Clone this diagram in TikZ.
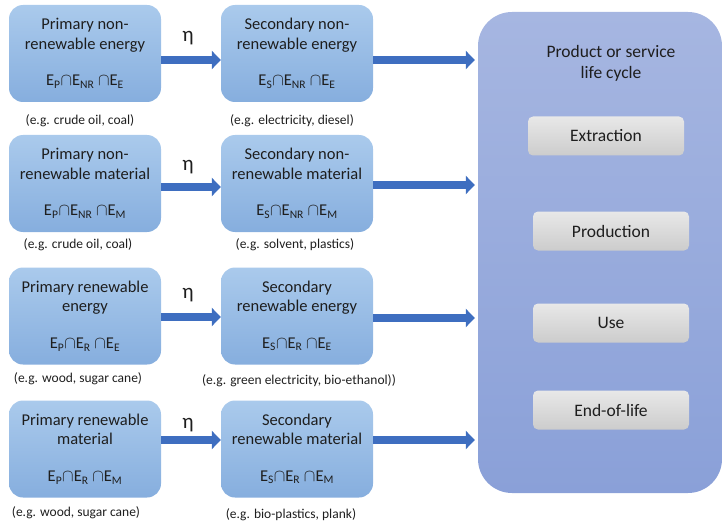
\documentclass[tikz,border=0pt]{standalone}
\usepackage{fontspec}
\setmainfont{Carlito}
\usetikzlibrary{positioning,arrows.meta}
\definecolor{boxtop}{RGB}{170,202,236}
\definecolor{boxbot}{RGB}{134,174,222}
\definecolor{lctop}{RGB}{166,182,225}
\definecolor{lcbot}{RGB}{138,160,216}
\definecolor{graytop}{RGB}{232,232,232}
\definecolor{graybot}{RGB}{204,204,204}
\definecolor{flowblue}{RGB}{62,110,192}
\definecolor{txtgray}{RGB}{30,30,30}
\newcommand{\Isect}{\ensuremath{\cap}}
\tikzset{
  srcbox/.style={
    rounded corners=14pt, top color=boxtop, bottom color=boxbot,
    minimum width=152pt, minimum height=97pt, inner sep=0pt,
    align=center, text=txtgray, font=\fontsize{16.5}{19.5}\selectfont
  },
  lcbox/.style={
    rounded corners=34pt, top color=lctop, bottom color=lcbot,
    minimum width=244pt, minimum height=481pt, inner sep=0pt
  },
  stage/.style={
    rounded corners=5pt, top color=graytop, bottom color=graybot,
    minimum width=156pt, minimum height=39pt, inner sep=0pt,
    text=txtgray, font=\fontsize{17.5}{20}\selectfont
  },
  example/.style={text=txtgray, font=\fontsize{13.5}{16}\selectfont, inner sep=0pt},
  eta/.style={text=txtgray, font=\fontsize{21}{24}\selectfont, inner sep=0pt},
  flow/.style={-{Triangle[length=9pt,width=18pt]}, line width=8pt, draw=flowblue}
}

\begin{document}
\begin{tikzpicture}[x=1pt,y=-1pt]
  \useasboundingbox (0,0) rectangle (723,524);

  % life cycle
  \node[lcbox] (lc) at (600,252.5) {};
  \node[text=txtgray, align=center, font=\fontsize{17.5}{21}\selectfont] (lctitle) at (611,63) {Product or service\\life cycle};
  \node[stage] (extr) at (606,136) {Extraction};
  \node[stage] (prod) at (611,231) {Production};
  \node[stage] (use) at (611,323) {Use};
  \node[stage] (eol) at (611,410) {End-of-life};

  % primary resources
  \node[srcbox] (p1) at (85,53.5) {Primary non-\\renewable energy\\[17pt]E\textsubscript{P}\Isect E\textsubscript{NR} \Isect E\textsubscript{E}};
  \node[srcbox] (p2) at (85,183.5) {Primary non-\\renewable material\\[17pt]E\textsubscript{P}\Isect E\textsubscript{NR} \Isect E\textsubscript{M}};
  \node[srcbox] (p3) at (85,316) {Primary renewable\\energy\\[17pt]E\textsubscript{P}\Isect E\textsubscript{R} \Isect E\textsubscript{E}};
  \node[srcbox] (p4) at (85,449) {Primary renewable\\material\\[17pt]E\textsubscript{P}\Isect E\textsubscript{R} \Isect E\textsubscript{M}};

  % secondary resources
  \node[srcbox] (s1) at (297,53.5) {Secondary non-\\renewable energy\\[17pt]E\textsubscript{S}\Isect E\textsubscript{NR} \Isect E\textsubscript{E}};
  \node[srcbox] (s2) at (297,183.5) {Secondary non-\\renewable material\\[17pt]E\textsubscript{S}\Isect E\textsubscript{NR} \Isect E\textsubscript{M}};
  \node[srcbox] (s3) at (297,316) {Secondary\\renewable energy\\[17pt]E\textsubscript{S}\Isect E\textsubscript{R} \Isect E\textsubscript{E}};
  \node[srcbox] (s4) at (297,449) {Secondary\\renewable material\\[17pt]E\textsubscript{S}\Isect E\textsubscript{R} \Isect E\textsubscript{M}};

  % examples
  \node[example] (ex1) at (80,121) {(e.g. crude oil, coal)};
  \node[example] (ex2) at (78,245) {(e.g. crude oil, coal)};
  \node[example] (ex3) at (78,379) {(e.g. wood, sugar cane)};
  \node[example] (ex4) at (76,513) {(e.g. wood, sugar cane)};
  \node[example] (ey1) at (292,121) {(e.g. electricity, diesel)};
  \node[example] (ey2) at (295,245) {(e.g. solvent, plastics)};
  \node[example] (ey3) at (299,381) {(e.g. green electricity, bio-ethanol))};
  \node[example] (ey4) at (291,515) {(e.g. bio-plastics, plank)};

  % conversion arrows
  \node[eta] (eta1) at (188,38) {η};
  \node[eta] (eta2) at (188,167) {η};
  \node[eta] (eta3) at (188,295) {η};
  \node[eta] (eta4) at (188,425) {η};
  \draw[flow] ([yshift=-6.5pt]p1.east) -- ([yshift=-6.5pt]s1.west);
  \draw[flow] ([yshift=-3.5pt]p2.east) -- ([yshift=-3.5pt]s2.west);
  \draw[flow] ([yshift=-1pt]p3.east) -- ([yshift=-1pt]s3.west);
  \draw[flow] ([yshift=9pt]p4.east) -- ([yshift=9pt]s4.west);

  % into life cycle
  \draw[flow] ([yshift=-6.5pt]s1.east) -- ([yshift=-6.5pt,xshift=-3pt]s1.east -| lc.west);
  \draw[flow] ([yshift=-1.5pt]s2.east) -- ([yshift=-1.5pt,xshift=-3pt]s2.east -| lc.west);
  \draw[flow] ([yshift=-2pt]s3.east) -- ([yshift=-2pt,xshift=-3pt]s3.east -| lc.west);
  \draw[flow] ([yshift=9pt]s4.east) -- ([yshift=9pt,xshift=-3pt]s4.east -| lc.west);
\end{tikzpicture}
\end{document}
